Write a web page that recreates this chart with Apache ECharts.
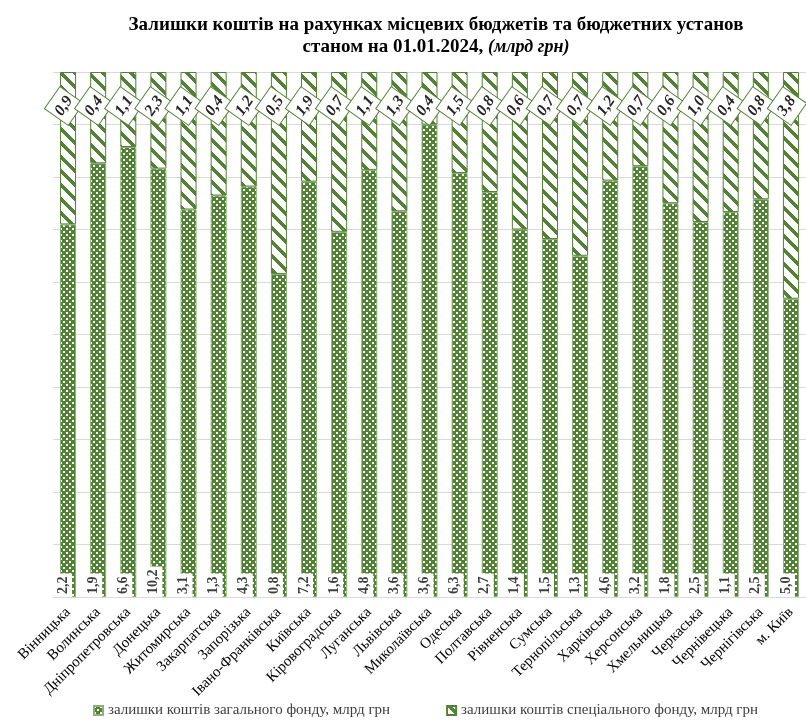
<!DOCTYPE html>
<html>
<head>
<meta charset="utf-8">
<script src="https://cdn.jsdelivr.net/npm/echarts@6/dist/echarts.min.js"></script>
<style>
  html, body { margin: 0; padding: 0; background: #fff; }
  #chart { width: 806px; height: 723px; }
</style>
</head>
<body>
<div id="chart"></div>
<script>
const categories = [
  "Вінницька", "Волинська", "Дніпропетровська", "Донецька", "Житомирська",
  "Закарпатська", "Запорізька", "Івано-Франківська", "Київська", "Кіровоградська",
  "Луганська", "Львівська", "Миколаївська", "Одеська", "Полтавська",
  "Рівненська", "Сумська", "Тернопільська", "Харківська", "Херсонська",
  "Хмельницька", "Черкаська", "Чернівецька", "Чернігівська", "м. Київ"
];
// залишки загального фонду, млрд грн
const generalFund = [2.2, 1.9, 6.6, 10.2, 3.1, 1.3, 4.3, 0.8, 7.2, 1.6, 4.8, 3.6, 3.6, 6.3, 2.7, 1.4, 1.5, 1.3, 4.6, 3.2, 1.8, 2.5, 1.1, 2.5, 5.0];
// залишки спеціального фонду, млрд грн
const specialFund = [0.9, 0.4, 1.1, 2.3, 1.1, 0.4, 1.2, 0.5, 1.9, 0.7, 1.1, 1.3, 0.4, 1.5, 0.8, 0.6, 0.7, 0.7, 1.2, 0.7, 0.6, 1.0, 0.4, 0.8, 3.8];

const GREEN = "#538135";
const SERIF = "'Liberation Serif', 'Times New Roman', serif";

// 100% stacked shares
const generalShare = generalFund.map((v, i) => (v / (v + specialFund[i])) * 100);
const specialShare = specialFund.map((v, i) => (v / (generalFund[i] + v)) * 100);

function fmt(v) {
  return v.toFixed(1).replace(".", ",");
}

// excel-like fill patterns
function checkerPattern() {
  const c = document.createElement("canvas");
  c.width = 6; c.height = 6;
  const ctx = c.getContext("2d");
  ctx.fillStyle = GREEN;
  ctx.fillRect(0, 0, 6, 6);
  ctx.fillStyle = "#fff";
  ctx.fillRect(0, 0, 2, 2);
  ctx.fillRect(3, 3, 2, 2);
  return c;
}
function stripePattern() {
  const n = 14;
  const c = document.createElement("canvas");
  c.width = n; c.height = n;
  const ctx = c.getContext("2d");
  ctx.fillStyle = "#fff";
  ctx.fillRect(0, 0, n, n);
  ctx.fillStyle = GREEN;
  for (let x = 0; x < n; x++) {
    for (let y = 0; y < n; y++) {
      if ((((x - y) % n) + n) % n < 5) ctx.fillRect(x, y, 1, 1);
    }
  }
  return c;
}

const myChart = echarts.init(document.getElementById("chart"));
let option = {
  animation: false,
  title: {
    left: 431,
    top: 9,
    textAlign: "center",
    text: "{b|Залишки коштів на рахунках місцевих бюджетів та бюджетних установ}\n{b|станом на 01.01.2024, }{i|(млрд грн)}",
    textStyle: {
      rich: {
        b: { fontFamily: SERIF, fontWeight: "bold", fontSize: 19, lineHeight: 22, color: "#000" },
        i: { fontFamily: SERIF, fontStyle: "italic", fontSize: 18, lineHeight: 22, color: "#000" },
      },
    },
  },
  legend: {
    bottom: 0,
    left: 88,
    itemWidth: 9,
    itemHeight: 9,
    itemGap: 56,
    icon: "rect",
    textStyle: { fontFamily: SERIF, fontSize: 15, color: "#404040" },
    data: ["залишки коштів загального фонду, млрд грн", "залишки коштів спеціального фонду, млрд грн"],
  },
  grid: {
    left: 53,
    right: 0,
    top: 72,
    bottom: 126,
  },
  xAxis: {
    type: "category",
    data: categories,
    axisTick: { show: false },
    axisLine: { lineStyle: { color: "#d9d9d9" } },
    axisLabel: {
      interval: 0,
      rotate: 45,
      margin: 13,
      fontFamily: SERIF,
      fontSize: 15,
      color: "#000",
    },
  },
  yAxis: {
    type: "value",
    min: 0,
    max: 100,
    interval: 10,
    axisLabel: { show: false },
    axisLine: { show: false },
    axisTick: { show: false },
    splitLine: { lineStyle: { color: "#d9d9d9" } },
  },
  series: [
    {
      name: "залишки коштів загального фонду, млрд грн",
      type: "bar",
      stack: "total",
      barWidth: 16,
      itemStyle: {
        color: { image: checkerPattern(), repeat: "repeat" },
        borderColor: "#8db07a",
        borderWidth: 1,
      },
      label: {
        show: true,
        position: ["50%", "100%"],
        offset: [0, -5],
        align: "left",
        verticalAlign: "middle",
        rotate: 90,
        fontFamily: SERIF,
        fontWeight: "bold",
        fontSize: 14,
        color: "#3f3f3f",
        backgroundColor: "#fff",
        padding: [2, 3],
        formatter: (p) => fmt(generalFund[p.dataIndex]),
      },
      data: generalShare,
    },
    {
      name: "залишки коштів спеціального фонду, млрд грн",
      type: "bar",
      stack: "total",
      barWidth: 16,
      itemStyle: {
        color: { image: stripePattern(), repeat: "repeat" },
        borderColor: GREEN,
        borderWidth: 1,
      },
      label: {
        show: true,
        position: [4, 34],
        align: "center",
        verticalAlign: "middle",
        rotate: 55,
        fontFamily: SERIF,
        fontWeight: "bold",
        fontStyle: "italic",
        fontSize: 16,
        color: "#262626",
        backgroundColor: "#fff",
        borderColor: GREEN,
        borderWidth: 1,
        padding: [6, 3],
        formatter: (p) => fmt(specialFund[p.dataIndex]),
      },
      data: specialShare,
    },
  ],
};
myChart.setOption(option);
</script>
</body>
</html>
